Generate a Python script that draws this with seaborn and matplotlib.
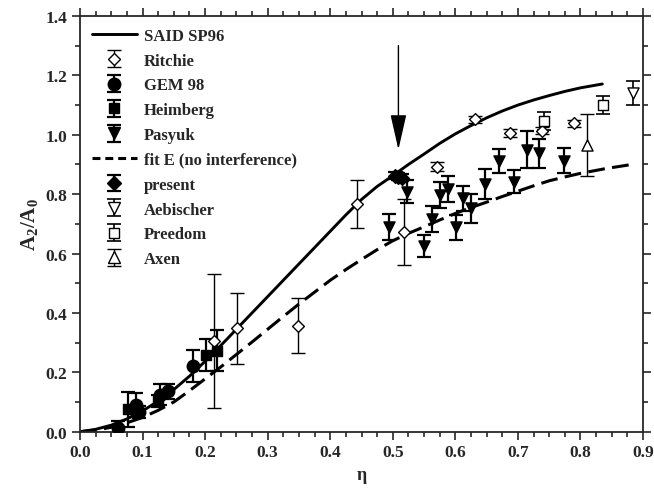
import numpy as np
import pandas as pd
import matplotlib
matplotlib.use("Agg")
import matplotlib.pyplot as plt
import seaborn as sns
from matplotlib.lines import Line2D
from matplotlib.legend_handler import HandlerTuple
from matplotlib.ticker import MultipleLocator, FormatStrFormatter

# ---------------- data ----------------
said_eta = [0.0, 0.025, 0.05, 0.075, 0.10, 0.125, 0.15, 0.175, 0.20, 0.225, 0.25, 0.275, 0.30,
            0.325, 0.35, 0.375, 0.40, 0.425, 0.45, 0.475, 0.50, 0.525, 0.55, 0.575, 0.60,
            0.625, 0.65, 0.675, 0.70, 0.725, 0.75, 0.775, 0.80, 0.835]
said_val = [0.0, 0.008, 0.022, 0.043, 0.07, 0.103, 0.142, 0.187, 0.237, 0.29, 0.345, 0.40, 0.455,
            0.51, 0.565, 0.62, 0.675, 0.73, 0.782, 0.826, 0.862, 0.9, 0.935, 0.971, 1.003,
            1.031, 1.057, 1.08, 1.10, 1.117, 1.132, 1.146, 1.158, 1.171]

fitE_eta = [0.0, 0.025, 0.05, 0.075, 0.10, 0.125, 0.15, 0.175, 0.20, 0.225, 0.25, 0.275, 0.30,
            0.325, 0.35, 0.375, 0.40, 0.425, 0.45, 0.475, 0.50, 0.525, 0.55, 0.575, 0.60,
            0.625, 0.65, 0.675, 0.70, 0.725, 0.75, 0.775, 0.80, 0.84, 0.885]
fitE_val = [0.0, 0.005, 0.015, 0.03, 0.048, 0.072, 0.10, 0.138, 0.178, 0.218, 0.26, 0.302, 0.345,
            0.388, 0.43, 0.47, 0.51, 0.546, 0.58, 0.613, 0.643, 0.668, 0.69, 0.713, 0.735,
            0.755, 0.773, 0.792, 0.81, 0.828, 0.845, 0.858, 0.87, 0.886, 0.901]

ritchie_eta = [0.214, 0.2515, 0.349, 0.4423, 0.518, 0.571, 0.6315, 0.6875, 0.738, 0.789]
ritchie_val = [0.306, 0.348, 0.357, 0.767, 0.673, 0.893, 1.052, 1.006, 1.013, 1.039]
ritchie_err = [0.225, 0.12, 0.093, 0.08, 0.11, 0.015, 0.012, 0.015, 0.012, 0.012]

gem_eta = [0.061, 0.0895, 0.095, 0.128, 0.141, 0.180]
gem_val = [0.012, 0.090, 0.066, 0.125, 0.136, 0.222]
gem_err = [0.025, 0.04, 0.02, 0.035, 0.025, 0.053]

heim_eta = [0.077, 0.124, 0.201, 0.2195]
heim_val = [0.075, 0.104, 0.258, 0.273]
heim_err = [0.058, 0.02, 0.053, 0.07]

pasyuk_eta = [0.4946, 0.523, 0.550, 0.562, 0.5755, 0.589, 0.601, 0.612, 0.625, 0.6475, 0.670, 0.693, 0.714, 0.734, 0.774]
pasyuk_val = [0.690, 0.808, 0.624, 0.716, 0.797, 0.817, 0.688, 0.786, 0.752, 0.834, 0.912, 0.842, 0.950, 0.938, 0.912]
pasyuk_err = [0.044, 0.038, 0.037, 0.045, 0.043, 0.044, 0.043, 0.043, 0.048, 0.050, 0.040, 0.039, 0.063, 0.049, 0.042]

present_eta = [0.504, 0.509, 0.514]
present_val = [0.862, 0.858, 0.855]
present_err = [0.012, 0.012, 0.012]

aeb_eta = [0.8836]
aeb_val = [1.14]
aeb_err = [0.04]

preedom_eta = [0.741, 0.8367]
preedom_val = [1.047, 1.100]
preedom_err = [0.03, 0.031]

axen_eta = [0.810]
axen_val = [0.965]
axen_err = [0.105]

arrow_eta = 0.509
arrow_top, arrow_tip = 1.30, 0.95

# ---------------- style ----------------
sns.set_style("ticks")
plt.rcParams["font.family"] = ["Liberation Serif", "DejaVu Serif"]
plt.rcParams["font.weight"] = "bold"
plt.rcParams["mathtext.fontset"] = "custom"
plt.rcParams["mathtext.rm"] = "Liberation Serif"
plt.rcParams["mathtext.bf"] = "Liberation Serif:bold"
plt.rcParams["mathtext.it"] = "Liberation Serif:italic"

fig = plt.figure(figsize=(6.54, 4.89), dpi=100)
ax = fig.add_axes([80 / 654, 1 - 432.7 / 489, (643 - 80) / 654, (432.7 - 17) / 489])

DASH = [5.5, 2.4]

# curves
said_df = pd.DataFrame({"eta": said_eta, "val": said_val})
fit_df = pd.DataFrame({"eta": fitE_eta, "val": fitE_val})
sns.lineplot(data=said_df, x="eta", y="val", ax=ax, color="black", lw=2.1, sort=False)
sns.lineplot(data=fit_df, x="eta", y="val", ax=ax, color="black", lw=2.2, sort=False)
ax.lines[-1].set_dashes(DASH)

series = [
    ("Ritchie", ritchie_eta, ritchie_val, ritchie_err, "D", "white", 6, 1.0),
    ("GEM 98", gem_eta, gem_val, gem_err, "o", "black", 9, 1.6),
    ("Heimberg", heim_eta, heim_val, heim_err, "s", "black", 7, 1.6),
    ("Pasyuk", pasyuk_eta, pasyuk_val, pasyuk_err, "v", "black", 8, 1.6),
    ("present", present_eta, present_val, present_err, "D", "black", 7, 1.6),
    ("Aebischer", aeb_eta, aeb_val, aeb_err, "v", "white", 8, 1.2),
    ("Preedom", preedom_eta, preedom_val, preedom_err, "s", "white", 7, 1.2),
    ("Axen", axen_eta, axen_val, axen_err, "^", "white", 8, 1.0),
]

handles = {}
for name, xs, ys, es, mk, fc, ms, elw in series:
    eb = ax.errorbar(xs, ys, yerr=es, fmt="none", ecolor="black", elinewidth=elw,
                     capsize=5, capthick=elw, zorder=3)
    df = pd.DataFrame({"eta": xs, "val": ys})
    sns.scatterplot(data=df, x="eta", y="val", ax=ax, marker=mk, s=ms ** 2,
                    color=fc, edgecolor="black", linewidth=1.0, zorder=4, legend=False)
    proxy = Line2D([], [], marker=mk, ls="none", markersize=ms, markerfacecolor=fc,
                   markeredgecolor="black", markeredgewidth=1.0)
    handles[name] = (eb, proxy)

said_h = Line2D([], [], color="black", lw=2.1)
fit_h = Line2D([], [], color="black", lw=2.2, dashes=[2.6, 1.6])

order = ["SAID SP96", "Ritchie", "GEM 98", "Heimberg", "Pasyuk",
         "fit E (no interference)", "present", "Aebischer", "Preedom", "Axen"]
hl = []
for lab in order:
    if lab == "SAID SP96":
        hl.append(said_h)
    elif lab.startswith("fit E"):
        hl.append(fit_h)
    else:
        hl.append(handles[lab])

leg = ax.legend(hl, order, loc="upper left", bbox_to_anchor=(0.0, 1.0), frameon=False,
                fontsize=12, handlelength=2.7, handletextpad=0.45, labelspacing=0.53,
                borderaxespad=0.3, handler_map={tuple: HandlerTuple(ndivide=1, pad=0)})
for t in leg.get_texts():
    t.set_fontweight("bold")

# arrow
ax.annotate("", xy=(arrow_eta, arrow_tip), xytext=(arrow_eta, arrow_top),
            arrowprops=dict(arrowstyle="-|>,head_length=2.2,head_width=0.5",
                            color="black", lw=1.0, shrinkA=0, shrinkB=0), zorder=5)

# axes
ax.set_xlim(0.0, 0.9)
ax.set_ylim(0.0, 1.4)
ax.xaxis.set_major_locator(MultipleLocator(0.1))
ax.xaxis.set_minor_locator(MultipleLocator(0.025))
ax.yaxis.set_major_locator(MultipleLocator(0.2))
ax.yaxis.set_minor_locator(MultipleLocator(0.1))
ax.xaxis.set_major_formatter(FormatStrFormatter("%.1f"))
ax.yaxis.set_major_formatter(FormatStrFormatter("%.1f"))
ax.tick_params(which="both", direction="out", top=True, right=True, width=1.2,
               labelsize=12.5, pad=3)
ax.tick_params(which="major", length=6)
ax.tick_params(which="minor", length=3.5)
for lbl in ax.get_xticklabels() + ax.get_yticklabels():
    lbl.set_fontweight("bold")
for sp in ax.spines.values():
    sp.set_visible(True)
    sp.set_linewidth(1.3)

ax.set_xlabel("η", fontsize=13, fontweight="bold", labelpad=4)
ax.set_ylabel(r"$\mathbf{A_2/A_0}$", fontsize=15, labelpad=4)

fig.savefig("out.png", dpi=100)
